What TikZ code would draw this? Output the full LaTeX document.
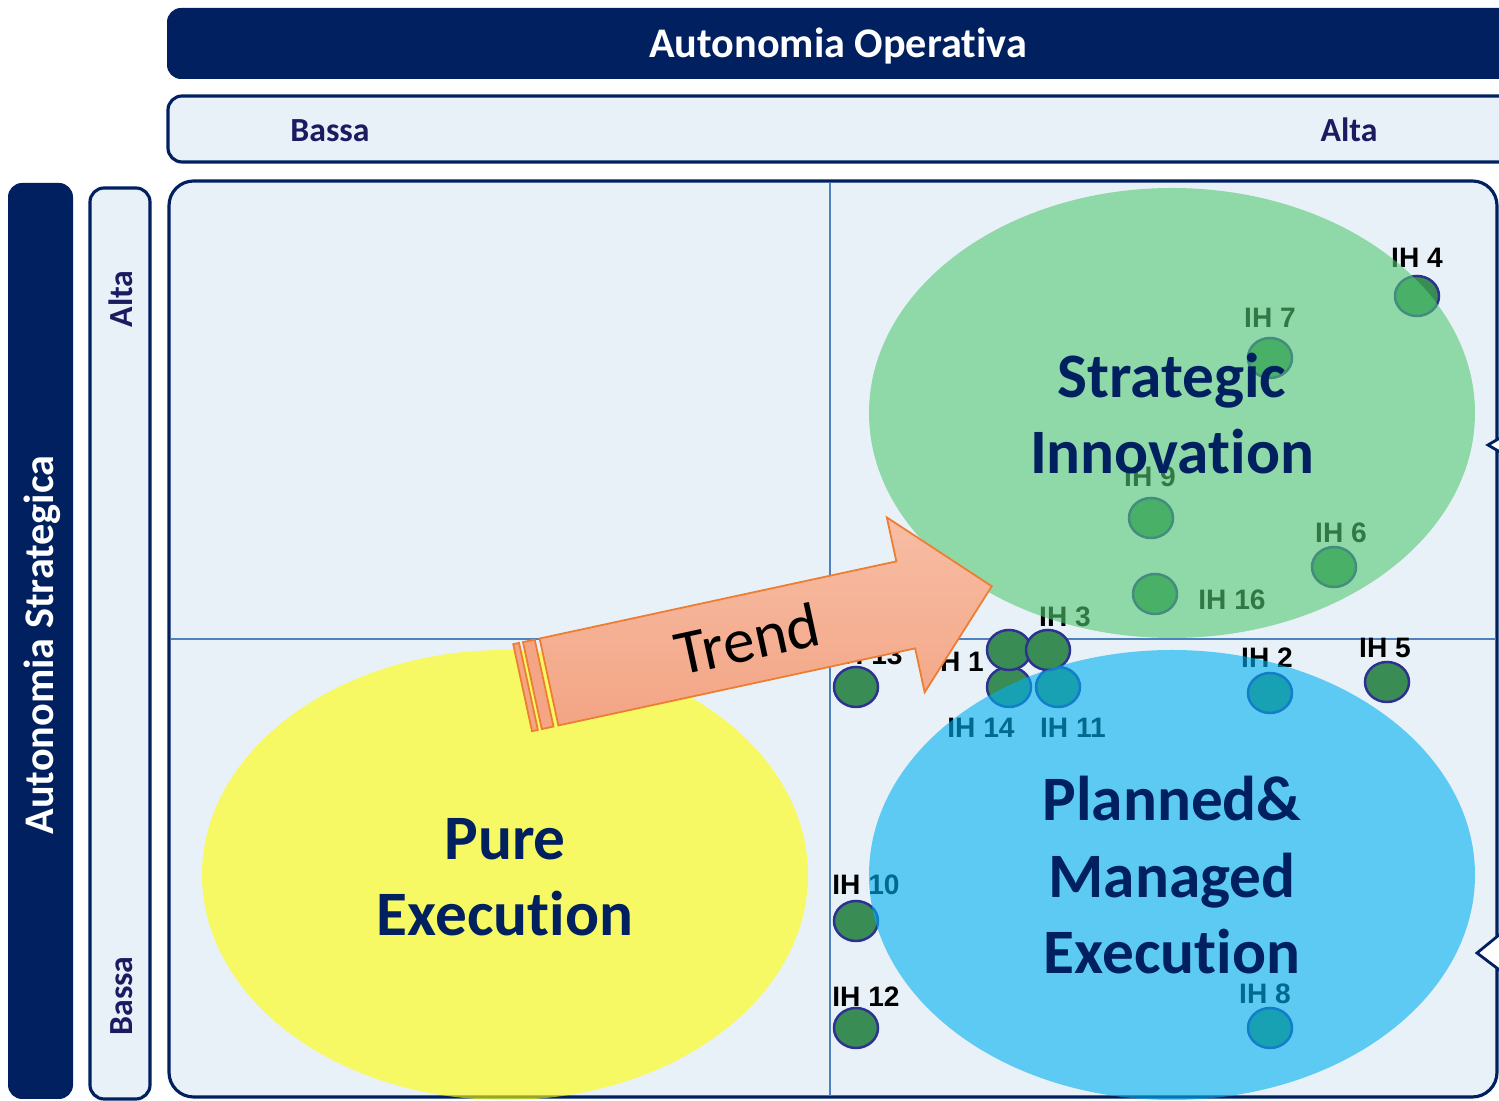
\documentclass[tikz,border=0pt]{standalone}
\usepackage{fontspec}
\setmainfont{Carlito}[Ligatures=NoCommon]
\newfontfamily\ihfont{Liberation Sans}
\usetikzlibrary{positioning}
\usetikzlibrary{shapes.geometric}

\definecolor{navy}{HTML}{002060}
\definecolor{labnavy}{HTML}{1B1B62}
\definecolor{paleblue}{HTML}{E9F1F8}
\definecolor{gridblue}{HTML}{4F81BD}
\definecolor{dotgreen}{HTML}{3A8C55}
\definecolor{dotrim}{HTML}{2E3192}
\definecolor{sigreen}{RGB}{84,201,115}
\definecolor{pmblue}{HTML}{00B0F0}
\definecolor{peyellow}{HTML}{FFFF00}
\definecolor{trendtop}{HTML}{F7BDA4}
\definecolor{trendbot}{HTML}{F3A585}
\definecolor{trendline}{HTML}{ED7D31}

\tikzset{
  band/.style={fill=navy, rounded corners=4pt},
  frame/.style={fill=paleblue, draw=navy, line width=0.9pt, rounded corners=4pt},
  headtxt/.style={text=white, font=\fontsize{12}{14}\selectfont\bfseries, inner sep=0pt},
  leveltxt/.style={text=labnavy, font=\fontsize{9.6}{11}\selectfont\bfseries, inner sep=0pt},
  quadtxt/.style={text=navy, font=\fontsize{18}{22}\selectfont\bfseries, inner sep=0pt},
  ihdot/.style={ellipse, minimum width=0.44cm, minimum height=0.40cm, inner sep=0pt,
    fill=dotgreen, draw=dotrim, line width=0.7pt},
  ihlab/.style={font=\ihfont\fontsize{8}{9}\selectfont\bfseries, inner sep=0pt},
  cluster/.style={fill opacity=0.6}
}

\begin{document}
\begin{tikzpicture}[x=0.01cm, y=-0.01cm]
    \useasboundingbox (0,0) rectangle (1499,1101);
    \clip (0,0) rectangle (1499,1101);

    \fill[band] (167,8) rectangle (1540,79);
    \draw[frame] (168,96) rectangle (1540,162);
    \fill[band] (8,183) rectangle (73,1099);
    \draw[frame] (90,188) rectangle (150,1099);
    \draw[frame, rounded corners=7pt] (169,181) rectangle (1497,1097);

    \node[headtxt, anchor=base] (opaxis) at (838,58) {Autonomia Operativa};
    \node[leveltxt, anchor=base] (oplow) at (330,142) {Bassa};
    \node[leveltxt, anchor=base] (ophigh) at (1349,142) {Alta};
    \node[headtxt, anchor=base, rotate=90] (staxis) at (54,645) {Autonomia Strategica};
    \node[leveltxt, anchor=base, rotate=90] (sthigh) at (133,299) {Alta};
    \node[leveltxt, anchor=base, rotate=90] (stlow) at (133,996) {Bassa};

    \draw[gridblue, line width=0.6pt] (830,183) -- (830,1096);
    \draw[gridblue, line width=0.6pt] (171,639) -- (1496,639);

    \foreach \n/\dx/\dy/\lx/\ly in {4/1417/296/1417/258, 7/1270/358/1270/318,
        9/1151/518/1150/477, 6/1334/567/1341/533, 16/1155/594/1232/600,
        13/856/687/869/655, 14/1009/687/981/728, 11/1058/687/1073/728,
        1/1009/650/958/662, 3/1048/650/1065/617, 2/1270/693/1267/658,
        5/1387/682/1385/648, 10/856/921/866/885, 12/856/1028/866/997,
        8/1270/1028/1265/994}{
        \node[ihdot] (dot\n) at (\dx,\dy) {};
        \node[ihlab] (lab\n) at (\lx,\ly) {IH \n};
    }

    \fill[cluster, peyellow] (505,875) ellipse [x radius=303, y radius=225];
    \fill[cluster, sigreen] (1172,413) ellipse [x radius=303, y radius=225];
    \fill[cluster, pmblue] (1172,875) ellipse [x radius=303, y radius=225];

    \begin{scope}[shift={(549,682)}, rotate=12.2]
        \shade[top color=trendtop, bottom color=trendbot, draw=trendline, line width=0.5pt]
            (0,-44.5) -- (365,-44.5) -- (365,-89.5) -- (453,0) -- (365,89.5)
            -- (365,44.5) -- (0,44.5) -- cycle;
        \draw[fill=trendbot, draw=trendline, line width=0.5pt] (-27,-44.5) rectangle (-21,44.5);
        \draw[fill=trendbot, draw=trendline, line width=0.5pt] (-17,-44.5) rectangle (-5,44.5);
        \node[transform shape, font=\fontsize{18}{22}\selectfont, inner sep=0pt] (trend) at (203,0) {Trend};
    \end{scope}

    \node[quadtxt, anchor=base] (si1) at (1172,398) {Strategic};
    \node[quadtxt, anchor=base] (si2) at (1172,474) {Innovation};
    \node[quadtxt, anchor=base] (pe1) at (505,860) {Pure};
    \node[quadtxt, anchor=base] (pe2) at (505,936) {Execution};
    \node[quadtxt, anchor=base] (pm1) at (1172,821) {Planned\&};
    \node[quadtxt, anchor=base] (pm2) at (1172,898) {Managed};
    \node[quadtxt, anchor=base] (pm3) at (1172,974) {Execution};

    \draw[fill=white, draw=navy, line width=0.8pt] (1505,435) -- (1488,445) -- (1505,455);
    \draw[fill=white, draw=navy, line width=0.8pt] (1510,926) -- (1477,953) -- (1510,978);
\end{tikzpicture}
\end{document}
